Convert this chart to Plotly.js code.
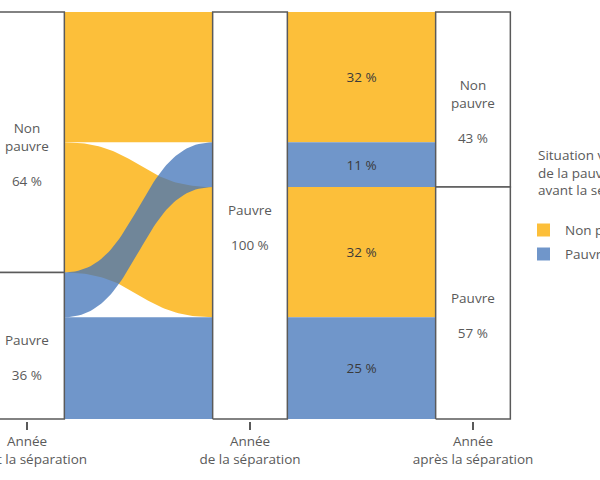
<!DOCTYPE html>
<html><head><meta charset="utf-8">
<script src="https://cdn.plot.ly/plotly-3.0.1.min.js"></script>
<style>html,body{margin:0;padding:0;background:#fff;}#chart{width:600px;height:480px;}</style>
</head><body><div id="chart"></div>
<script>
// ---------------- Data ----------------
const stages = ["Année<br>avant la séparation", "Année<br>de la séparation", "Année<br>après la séparation"];
const statusLabels = ["Non pauvre", "Pauvre"];
const beforeShares = [64, 36];          // situation before separation
const atLabels = ["Pauvre"];
const atShares = [100];                 // year of separation
const afterShares = [43, 57];           // situation after separation
// flows: situation before -> situation after
const flowOrigin = ["Non pauvre", "Non pauvre", "Pauvre", "Pauvre"];
const flowDest   = ["Non pauvre", "Pauvre", "Non pauvre", "Pauvre"];
const flowValues = [32, 32, 11, 25];
const legendTitle = "Situation vis-à-vis<br>de la pauvreté<br>avant la séparation";

// ---------------- Style ----------------
const YELLOW = "#FCBF3A";
const BLUE = "#7096CA";
const BLUE_FLOW = "rgba(65,116,185,0.754)";
const colorOf = s => s === "Non pauvre" ? YELLOW : BLUE;
const flowColorOf = s => s === "Non pauvre" ? YELLOW : BLUE_FLOW;
const TXT = "#5a5a5a";
const LINE = "#5a5a5a";
const FONT = "Open Sans, sans-serif";
const FS = 13.5;
const W = 0.335;        // node width (x units)
const TOTAL = 100;

// plot geometry (for layout helpers)
const M = {l: 0, r: 70, t: 8, b: 59};
const PW = 600 - M.l - M.r, PH = 480 - M.t - M.b;
const XR = [-27/223, (PW - 27)/223];
const YR = [-0.5, 101];
const pxX = px => (px - M.l) / PW;
const pxY = py => (480 - M.b - py) / PH;

// ---------------- Positions from data ----------------
const leftTop = {}, midTop = {};
let c = TOTAL;
statusLabels.forEach(o => statusLabels.forEach(d => {
  flowValues.forEach((v, i) => { if (flowOrigin[i] === o && flowDest[i] === d) { leftTop[i] = c; c -= v; } });
}));
c = TOTAL;
statusLabels.forEach(d => statusLabels.forEach(o => {
  flowValues.forEach((v, i) => { if (flowOrigin[i] === o && flowDest[i] === d) { midTop[i] = c; c -= v; } });
}));

function bez(x0, y0, x1, y1, n) {
  const xm = (x0 + x1) / 2, xs = [], ys = [];
  for (let k = 0; k <= n; k++) {
    const t = k / n, a = (1 - t) ** 3, b = 3 * (1 - t) ** 2 * t, cc = 3 * (1 - t) * t * t, d = t ** 3;
    xs.push(a * x0 + b * xm + cc * xm + d * x1);
    ys.push((a + b) * y0 + (cc + d) * y1);
  }
  return [xs, ys];
}

const traces = [];
// flow 1 (before -> year of separation): yellow first, then blue on top
const order = flowValues.map((v, i) => i).sort((a, b) =>
  (flowOrigin[a] === "Non pauvre" ? 0 : 1) - (flowOrigin[b] === "Non pauvre" ? 0 : 1));
order.forEach(i => {
  const v = flowValues[i];
  const x0 = 0 + W / 2, x1 = 1 - W / 2;
  const [tx, ty] = bez(x0, leftTop[i], x1, midTop[i], 60);
  const [bx, by] = bez(x1, midTop[i] - v, x0, leftTop[i] - v, 60);
  traces.push({
    type: "scatter", mode: "lines", x: tx.concat(bx), y: ty.concat(by),
    fill: "toself", fillcolor: flowColorOf(flowOrigin[i]), line: {width: 0},
    hoverinfo: "skip", showlegend: false
  });
});

// flow 2 (year of separation -> after): straight bands as bars
statusLabels.forEach(o => {
  const idx = flowValues.map((v, i) => i).filter(i => flowOrigin[i] === o);
  traces.push({
    type: "bar", name: o,
    x: idx.map(() => 1.5), y: idx.map(i => flowValues[i]), base: idx.map(i => midTop[i] - flowValues[i]),
    width: 1 - W, marker: {color: colorOf(o), line: {width: 0}},
    text: idx.map(i => flowValues[i] + " %"), textposition: "inside", insidetextanchor: "middle",
    textangle: 0, constraintext: "none",
    textfont: {family: FONT, size: FS, color: "#3a3a3a"},
    hoverinfo: "skip", showlegend: false
  });
});

// nodes
const nodes = [];
function addNodes(stageIdx, labels, shares) {
  let top = TOTAL;
  labels.forEach((lab, k) => {
    const v = shares[k];
    nodes.push({x: stageIdx, top: top, bot: top - v, label: lab, value: v});
    top -= v;
  });
}
addNodes(0, statusLabels, beforeShares);
addNodes(1, atLabels, atShares);
addNodes(2, statusLabels, afterShares);
nodes.forEach(n => {
  traces.push({
    type: "scatter", mode: "lines",
    x: [n.x - W / 2, n.x + W / 2, n.x + W / 2, n.x - W / 2, n.x - W / 2],
    y: [n.bot, n.bot, n.top, n.top, n.bot],
    fill: "toself", fillcolor: "#ffffff", line: {color: LINE, width: 1.5},
    hoverinfo: "skip", showlegend: false
  });
});

const annotations = nodes.map(n => ({
  x: n.x, y: (n.top + n.bot) / 2, xref: "x", yref: "y",
  text: n.label.replace(" ", "<br>") + "<br><br>" + n.value + " %",
  showarrow: false, yshift: -12, align: "center",
  font: {family: FONT, size: FS, color: TXT}
}));

// legend (drawn manually so it may run off the page like the reference)
annotations.push({
  xref: "paper", yref: "paper", x: pxX(536), y: pxY(144), xanchor: "left", yanchor: "top",
  text: legendTitle, showarrow: false, align: "left",
  font: {family: FONT, size: FS, color: TXT}
});
const shapes = [];
statusLabels.forEach((s, k) => {
  const yc = 230 + 24 * k;
  shapes.push({type: "rect", xref: "paper", yref: "paper",
    x0: pxX(537), x1: pxX(550), y0: pxY(yc - 6.5), y1: pxY(yc + 6.5),
    fillcolor: colorOf(s), line: {width: 0}});
  annotations.push({xref: "paper", yref: "paper", x: pxX(563), y: pxY(yc), xanchor: "left", yanchor: "middle",
    text: s, showarrow: false, font: {family: FONT, size: FS, color: TXT}});
});

const layout = {
  width: 600, height: 480,
  margin: {l: M.l, r: M.r, t: M.t, b: M.b, pad: 0, autoexpand: false},
  paper_bgcolor: "#ffffff", plot_bgcolor: "#ffffff",
  barmode: "overlay", showlegend: false,
  xaxis: {range: XR, tickvals: [0, 1, 2], ticktext: stages, ticks: "outside", ticklen: 8,
    tickwidth: 1.5, tickcolor: LINE, showgrid: false, zeroline: false, showline: false,
    ticklabeloverflow: "allow",
    tickfont: {family: FONT, size: FS, color: TXT}, fixedrange: true},
  yaxis: {range: YR, visible: false, showgrid: false, zeroline: false, fixedrange: true},
  annotations: annotations, shapes: shapes,
  font: {family: FONT, color: TXT}
};

Plotly.newPlot("chart", traces, layout, {displayModeBar: false, staticPlot: true});
</script>
</body></html>
